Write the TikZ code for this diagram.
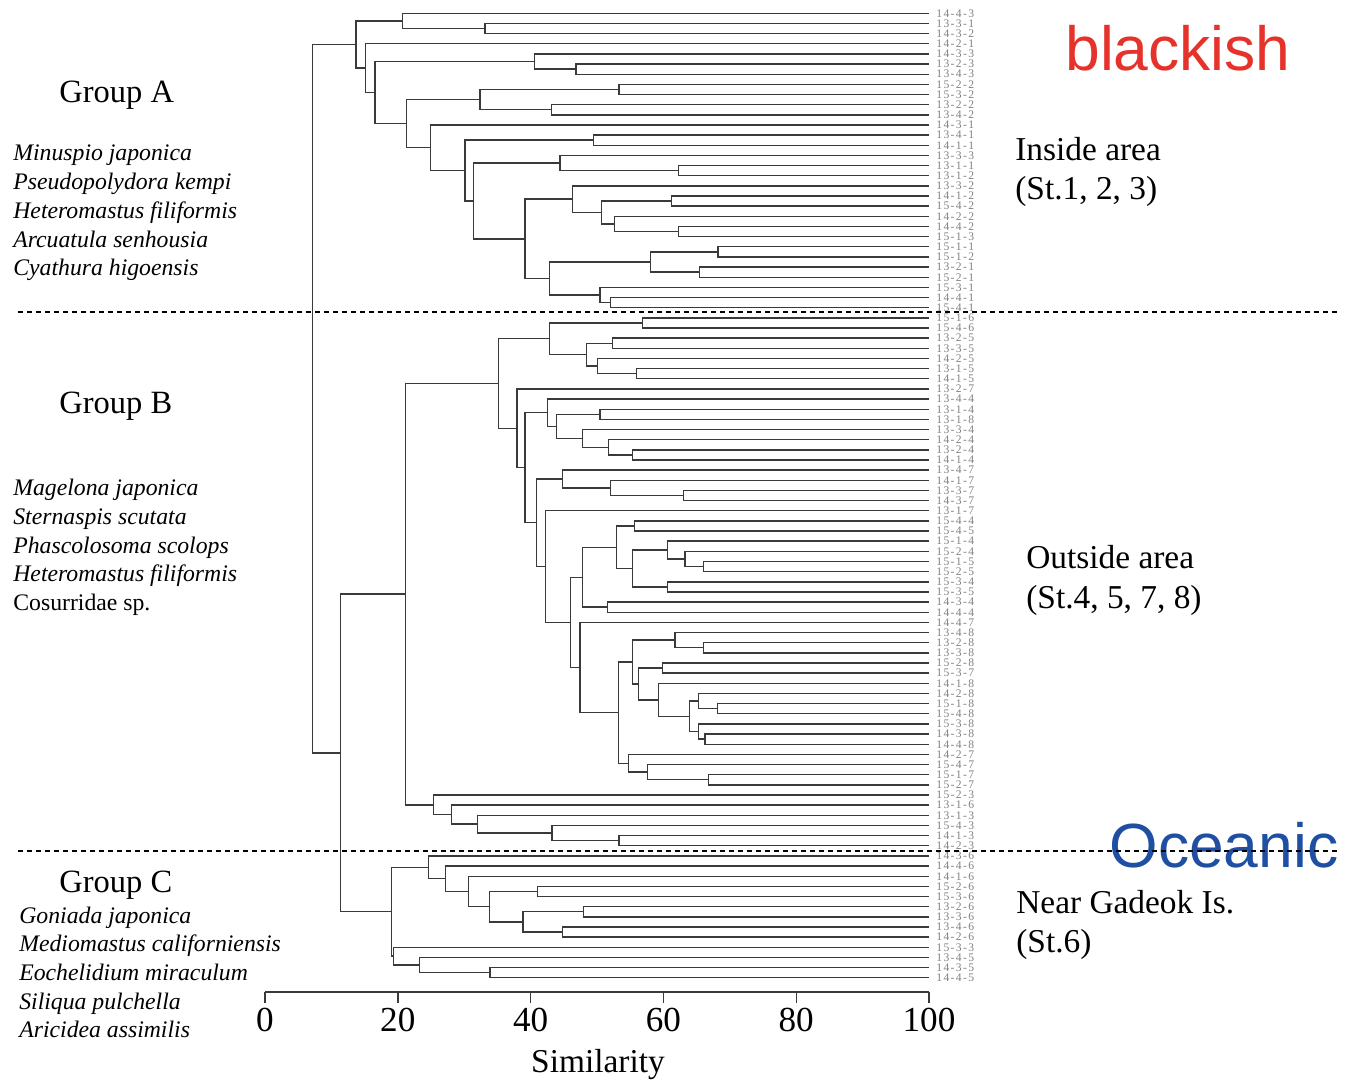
\documentclass[tikz,border=0pt]{standalone}
\usepackage{fontspec}
\setmainfont{Liberation Serif}
\newfontfamily\sansf{Liberation Sans}
\newfontfamily\labfont[LetterSpace=12]{Liberation Serif}
\usetikzlibrary{calc}
\definecolor{treecol}{HTML}{3A3A3A}
\definecolor{labcol}{HTML}{808080}
\definecolor{redtxt}{HTML}{E5322A}
\definecolor{bluetxt}{HTML}{1F4FA3}
\newcommand\dmerge[4]{%
  \path let \p1=($(#3)!0.5!(#4)$), \p2=(#2,0) in coordinate (#1) at (\x2,\y1);
  \draw[tree] (#3) -| (#1) |- (#4);
}
\begin{document}
\begin{tikzpicture}[x=0.02cm,y=-0.02cm,
  tree/.style={draw=treecol,line width=0.8pt},
  leaflab/.style={anchor=west,inner sep=0,text=labcol,font=\labfont\fontsize{6.6}{7}\selectfont},
  grp/.style={anchor=base west,inner sep=0,font=\fontsize{18.5}{20}\selectfont},
  sp/.style={anchor=base west,inner sep=0,font=\fontsize{13.5}{15}\selectfont\itshape},
  sprm/.style={anchor=base west,inner sep=0,font=\fontsize{13.5}{15}\selectfont},
  area/.style={anchor=base west,inner sep=0,font=\fontsize{19}{21}\selectfont},
  axlab/.style={anchor=center,inner sep=0,font=\fontsize{20}{22}\selectfont},
  big/.style={anchor=center,inner sep=0,font=\sansf\fontsize{35.5}{38}\selectfont},
  sep/.style={draw=black,line width=1.3pt,dash pattern=on 0.11cm off 0.07cm}]
\useasboundingbox (0,0) rectangle (1347,1087);
% leaves
\foreach \i/\lab in {1/14-4-3,2/13-3-1,3/14-3-2,4/14-2-1,5/14-3-3,6/13-2-3,7/13-4-3,8/15-2-2,
  9/15-3-2,10/13-2-2,11/13-4-2,12/14-3-1,13/13-4-1,14/14-1-1,15/13-3-3,16/13-1-1,17/13-1-2,
  18/13-3-2,19/14-1-2,20/15-4-2,21/14-2-2,22/14-4-2,23/15-1-3,24/15-1-1,25/15-1-2,26/13-2-1,
  27/15-2-1,28/15-3-1,29/14-4-1,30/15-4-1,31/15-1-6,32/15-4-6,33/13-2-5,34/13-3-5,35/14-2-5,
  36/13-1-5,37/14-1-5,38/13-2-7,39/13-4-4,40/13-1-4,41/13-1-8,42/13-3-4,43/14-2-4,44/13-2-4,
  45/14-1-4,46/13-4-7,47/14-1-7,48/13-3-7,49/14-3-7,50/13-1-7,51/15-4-4,52/15-4-5,53/15-1-4,
  54/15-2-4,55/15-1-5,56/15-2-5,57/15-3-4,58/15-3-5,59/14-3-4,60/14-4-4,61/14-4-7,62/13-4-8,
  63/13-2-8,64/13-3-8,65/15-2-8,66/15-3-7,67/14-1-8,68/14-2-8,69/15-1-8,70/15-4-8,71/15-3-8,
  72/14-3-8,73/14-4-8,74/14-2-7,75/15-4-7,76/15-1-7,77/15-2-7,78/15-2-3,79/13-1-6,80/13-1-3,
  81/15-4-3,82/14-1-3,83/14-2-3,84/14-3-6,85/14-4-6,86/14-1-6,87/15-2-6,88/15-3-6,89/13-2-6,
  90/13-3-6,91/13-4-6,92/14-2-6,93/15-3-3,94/13-4-5,95/14-3-5,96/14-4-5}{
  \coordinate (L\i) at (929,{13.3+(\i-1)*10.152});
  \node[leaflab] (T\i) at (936,{13.3+(\i-1)*10.152}) {\lab};
}
% Group A
\dmerge{a23}{485}{L2}{L3}
\dmerge{a123}{402.7}{L1}{a23}
\dmerge{a67}{576}{L6}{L7}
\dmerge{a567}{534.3}{L5}{a67}
\dmerge{a89}{619}{L8}{L9}
\dmerge{a1011}{551.7}{L10}{L11}
\dmerge{a8x11}{480}{a89}{a1011}
\dmerge{a1314}{593.3}{L13}{L14}
\dmerge{a1617}{678.7}{L16}{L17}
\dmerge{a15x17}{560}{L15}{a1617}
\dmerge{a1920}{671.7}{L19}{L20}
\dmerge{a2223}{678.7}{L22}{L23}
\dmerge{a21x23}{614.3}{L21}{a2223}
\dmerge{a19x23}{601.7}{a1920}{a21x23}
\dmerge{a18x23}{572.7}{L18}{a19x23}
\dmerge{a2425}{718}{L24}{L25}
\dmerge{a2627}{699.5}{L26}{L27}
\dmerge{a24x27}{650.7}{a2425}{a2627}
\dmerge{a2930}{610.7}{L29}{L30}
\dmerge{a28x30}{600}{L28}{a2930}
\dmerge{a24x30}{549.3}{a24x27}{a28x30}
\dmerge{a18x30}{525}{a18x23}{a24x30}
\dmerge{a15x30}{473.3}{a15x17}{a18x30}
\dmerge{a13x30}{465}{a1314}{a15x30}
\dmerge{a12x30}{430.3}{L12}{a13x30}
\dmerge{a8x30}{406.7}{a8x11}{a12x30}
\dmerge{a5x30}{375}{a567}{a8x30}
\dmerge{a4x30}{365.3}{L4}{a5x30}
\dmerge{grpA}{356}{a123}{a4x30}
% Group B
\dmerge{b3132}{642.3}{L31}{L32}
\dmerge{b3334}{612.7}{L33}{L34}
\dmerge{b3637}{636.3}{L36}{L37}
\dmerge{b35x37}{597.3}{L35}{b3637}
\dmerge{b33x37}{586.7}{b3334}{b35x37}
\dmerge{b31x37}{549.3}{b3132}{b33x37}
\dmerge{b4041}{600}{L40}{L41}
\dmerge{b4445}{632.3}{L44}{L45}
\dmerge{b43x45}{608.7}{L43}{b4445}
\dmerge{b42x45}{582.7}{L42}{b43x45}
\dmerge{b40x45}{556.7}{b4041}{b42x45}
\dmerge{b39x45}{547.3}{L39}{b40x45}
\dmerge{b4849}{683.7}{L48}{L49}
\dmerge{b47x49}{610.7}{L47}{b4849}
\dmerge{b46x49}{562.7}{L46}{b47x49}
\dmerge{b5152}{634.7}{L51}{L52}
\dmerge{b5556}{703.3}{L55}{L56}
\dmerge{b54x56}{685}{L54}{b5556}
\dmerge{b53x56}{667.3}{L53}{b54x56}
\dmerge{b5758}{667.3}{L57}{L58}
\dmerge{b53x58}{632.3}{b53x56}{b5758}
\dmerge{b51x58}{616.7}{b5152}{b53x58}
\dmerge{b5960}{607.3}{L59}{L60}
\dmerge{b51x60}{582.7}{b51x58}{b5960}
\dmerge{b6364}{703.3}{L63}{L64}
\dmerge{b62x64}{675}{L62}{b6364}
\dmerge{b6566}{662.7}{L65}{L66}
\dmerge{b6970}{717.3}{L69}{L70}
\dmerge{b68x70}{698.3}{L68}{b6970}
\dmerge{b7273}{705}{L72}{L73}
\dmerge{b71x73}{698.3}{L71}{b7273}
\dmerge{b68x73}{689.3}{b68x70}{b71x73}
\dmerge{b67x73}{658.7}{L67}{b68x73}
\dmerge{b65x73}{638.3}{b6566}{b67x73}
\dmerge{b62x73}{632.3}{b62x64}{b65x73}
\dmerge{b7677}{708.3}{L76}{L77}
\dmerge{b75x77}{647.3}{L75}{b7677}
\dmerge{b74x77}{628.3}{L74}{b75x77}
\dmerge{b62x77}{618.7}{b62x73}{b74x77}
\dmerge{b61x77}{580}{L61}{b62x77}
\dmerge{b51x77}{570.7}{b51x60}{b61x77}
\dmerge{b50x77}{545.7}{L50}{b51x77}
\dmerge{b46x77}{536.3}{b46x49}{b50x77}
\dmerge{b39x77}{525}{b39x45}{b46x77}
\dmerge{b38x77}{517}{L38}{b39x77}
\dmerge{b31x77}{498.7}{b31x37}{b38x77}
\dmerge{b8283}{619}{L82}{L83}
\dmerge{b81x83}{552}{L81}{b8283}
\dmerge{b80x83}{477.7}{L80}{b81x83}
\dmerge{b79x83}{451.7}{L79}{b80x83}
\dmerge{b78x83}{433.3}{L78}{b79x83}
\dmerge{grpB}{405.3}{b31x77}{b78x83}
% Group C
\dmerge{c8788}{537.7}{L87}{L88}
\dmerge{c8990}{583.3}{L89}{L90}
\dmerge{c9192}{562.3}{L91}{L92}
\dmerge{c89x92}{523}{c8990}{c9192}
\dmerge{c87x92}{489.7}{c8788}{c89x92}
\dmerge{c86x92}{468.3}{L86}{c87x92}
\dmerge{c85x92}{445.7}{L85}{c86x92}
\dmerge{c84x92}{428.7}{L84}{c85x92}
\dmerge{c9596}{490}{L95}{L96}
\dmerge{c94x96}{419.3}{L94}{c9596}
\dmerge{c93x96}{393.7}{L93}{c94x96}
\dmerge{grpC}{391.7}{c84x92}{c93x96}
\dmerge{grpBC}{340.7}{grpB}{grpC}
\dmerge{root}{312.3}{grpA}{grpBC}
% axis
\coordinate (ax0) at (265,992);
\coordinate (ax100) at (929,992);
\draw[tree] (ax0) -- (ax100);
\foreach \v/\n in {0/t0,20/t20,40/t40,60/t60,80/t80,100/t100}{
  \coordinate (\n) at ({265+6.64*\v},992);
  \draw[tree] (\n) -- ++(0,11);
  \node[axlab] (\n lab) at ({265+6.64*\v},1020) {\v};
}
\node[axlab,font=\fontsize{19}{21}\selectfont] (simlab) at (598,1065) {Similarity};
% left texts
\node[grp] (gA) at (59,103) {Group A};
\node[sp] (sa1) at (13,161) {Minuspio japonica};
\node[sp] (sa2) at (13,190) {Pseudopolydora kempi};
\node[sp] (sa3) at (13,219) {Heteromastus filiformis};
\node[sp] (sa4) at (13,248) {Arcuatula senhousia};
\node[sp] (sa5) at (13,276) {Cyathura higoensis};
\node[grp] (gB) at (59,414) {Group B};
\node[sp] (sb1) at (13,496) {Magelona japonica};
\node[sp] (sb2) at (13,525) {Sternaspis scutata};
\node[sp] (sb3) at (13,554) {Phascolosoma scolops};
\node[sp] (sb4) at (13,582) {Heteromastus filiformis};
\node[sprm] (sb5) at (13,611) {Cosurridae sp.};
\node[grp] (gC) at (59,893) {Group C};
\node[sp] (sc1) at (19,924) {Goniada japonica};
\node[sp] (sc2) at (19,952) {Mediomastus californiensis};
\node[sp] (sc3) at (19,981) {Eochelidium miraculum};
\node[sp] (sc4) at (19,1010) {Siliqua pulchella};
\node[sp] (sc5) at (19,1038) {Aricidea assimilis};
% right texts
\node[big,text=redtxt] (blk) at (1178,48) {blackish};
\node[area] (in1) at (1015,161) {Inside area};
\node[area] (in2) at (1015,200) {(St.1, 2, 3)};
\node[area] (out1) at (1026,569) {Outside area};
\node[area] (out2) at (1026,609) {(St.4, 5, 7, 8)};
\node[area] (nr1) at (1016,914) {Near Gadeok Is.};
\node[area] (nr2) at (1016,953) {(St.6)};
\node[big,text=bluetxt] (oce) at (1224,845) {Oceanic};
% separators
\coordinate (s1a) at (18,312);
\coordinate (s1b) at (1338,312);
\coordinate (s2a) at (18,851);
\coordinate (s2b) at (1338,851);
\draw[sep] (s1a) -- (s1b);
\draw[sep] (s2a) -- (s2b);
\end{tikzpicture}
\end{document}
